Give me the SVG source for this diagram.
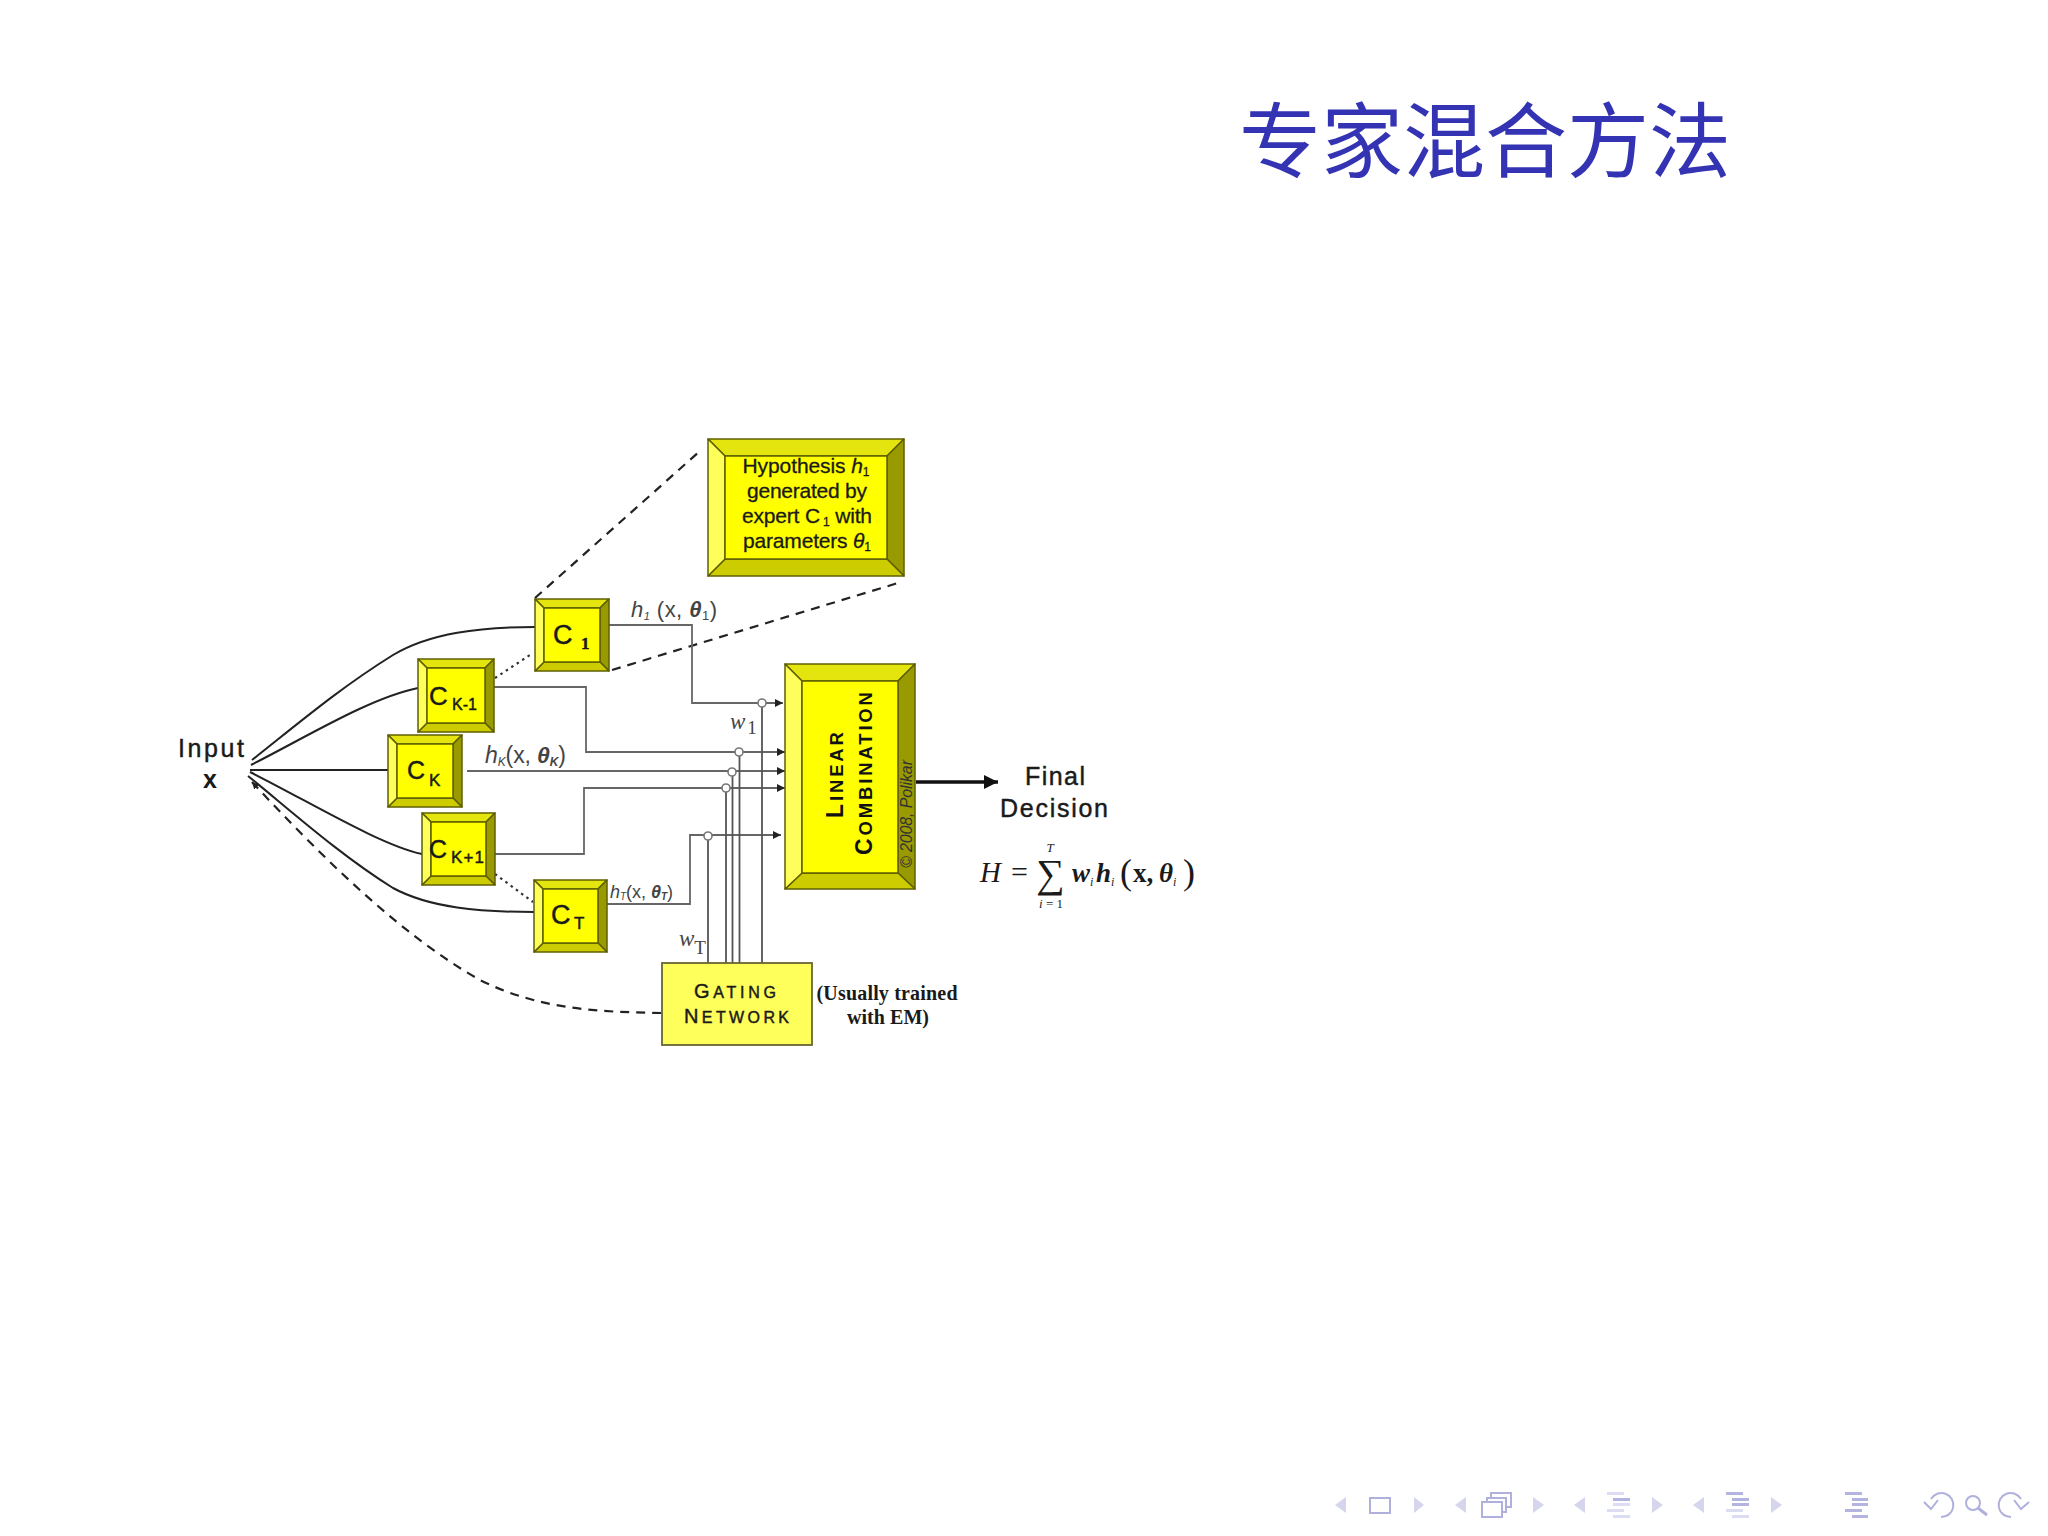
<svg xmlns="http://www.w3.org/2000/svg" width="2048" height="1536" viewBox="0 0 2048 1536">
<style>
text{font-family:"Liberation Sans",Arial,sans-serif;fill:#1a1a1a}
.serif{font-family:"Liberation Serif","Times New Roman",serif}
.lab{fill:#444}
.heavy{stroke:#1a1a1a;stroke-width:.45}
.o{stroke:#5f5f00;stroke-width:1.5;stroke-linejoin:round}
.bt{fill:#e4e40e}.br{fill:#999900}.bb{fill:#cccc00}.bl{fill:#ffff5c}.bf{fill:#ffff00}
.wire{fill:none;stroke:#222;stroke-width:2}
.dash{fill:none;stroke:#222;stroke-width:2.2;stroke-dasharray:9 7}
.dot{fill:none;stroke:#333;stroke-width:2.2;stroke-dasharray:2.5 4}
.g{fill:none;stroke:#666;stroke-width:1.8}
.v{fill:none;stroke:#555;stroke-width:1.8}
.c{fill:#fff;stroke:#777;stroke-width:1.6}
.tri{fill:#d5d5ee}
.ico{fill:none;stroke:#b0b0dd;stroke-width:2}
.d{fill:#b4b4e0}.l{fill:#dcdcf2}
</style>
<defs>
<marker id="arr" viewBox="0 0 8 8" refX="8" refY="4" markerWidth="8" markerHeight="8" markerUnits="userSpaceOnUse" orient="auto"><path d="M0 0L8 4L0 8z" fill="#222"/></marker>
<marker id="arrBig" viewBox="0 0 14 14" refX="14" refY="7" markerWidth="14" markerHeight="14" markerUnits="userSpaceOnUse" orient="auto"><path d="M0 0L14 7L0 14z" fill="#111"/></marker>
<marker id="arrStart" viewBox="0 0 7 7" refX="7" refY="3.500" markerWidth="7" markerHeight="7" markerUnits="userSpaceOnUse" orient="auto-start-reverse"><path d="M0 0L7 3.500L0 7z" fill="#222"/></marker>
</defs>
<rect width="2048" height="1536" fill="#fff"/>
<text id="title" x="1239" y="171" font-size="82" style="font-family:'Liberation Sans','Noto Sans CJK SC',sans-serif;fill:#3333b3">专家混合方法</text>

<g id="connectors">
<path class="wire" d="M252 760C300 722 340 688 393 655C430 633 480 627 535 627"/>
<path class="wire" d="M251 765C310 735 370 698 418 688"/>
<path class="wire" d="M250 770H388"/>
<path class="wire" d="M250 772C310 802 380 845 422 854"/>
<path class="wire" d="M248 776C290 810 340 855 393 888C430 908 480 912 534 912"/>
<path class="dash" marker-start="url(#arrStart)" d="M252 782C320 855 400 935 480 980C540 1010 600 1012 662 1013"/>
<path class="dash" d="M535 598L700 451"/>
<path class="dash" d="M612 670L898 583"/>
<path class="dot" d="M495 678L533 653"/>
<path class="dot" d="M495 874L533 902"/>
<path class="g" marker-end="url(#arr)" d="M609 625H692V703H783"/>
<path class="g" marker-end="url(#arr)" d="M494 687H586V752H785"/>
<path class="g" marker-end="url(#arr)" d="M467 771H785"/>
<path class="g" marker-end="url(#arr)" d="M495 854H584V788H785"/>
<path class="g" marker-end="url(#arr)" d="M607 904H690V835H781"/>
<path class="v" d="M762 703V963M739.500 752V963M732.500 772V963M726 788V963M708 836V963"/>
<circle class="c" cx="762" cy="703" r="4"/>
<circle class="c" cx="739" cy="752" r="4"/>
<circle class="c" cx="732" cy="772" r="4"/>
<circle class="c" cx="726" cy="788" r="4"/>
<circle class="c" cx="708" cy="836" r="4"/>
<path fill="none" stroke="#111" stroke-width="3.500" marker-end="url(#arrBig)" d="M916 782H998"/>
</g>

<g id="input"><text class="heavy" x="211" y="757" font-size="25" text-anchor="middle" textLength="66">Input</text><text x="210" y="788" font-size="25" font-weight="bold" text-anchor="middle">x</text></g>

<g id="c1" class="o">
<polygon class="bt" points="535,599 609,599 600,608 544,608"/><polygon class="br" points="609,599 609,671 600,662 600,608"/><polygon class="bb" points="535,671 609,671 600,662 544,662"/><polygon class="bl" points="535,599 535,671 544,662 544,608"/><rect class="bf" x="544" y="608" width="56" height="54"/>
<text class="heavy" x="553" y="644" font-size="27">C<tspan class="serif" x="581" y="649" font-size="17" font-weight="bold">1</tspan></text>
</g>
<g id="ck-1" class="o">
<polygon class="bt" points="418,659 494,659 485,668 427,668"/><polygon class="br" points="494,659 494,732 485,723 485,668"/><polygon class="bb" points="418,732 494,732 485,723 427,723"/><polygon class="bl" points="418,659 418,732 427,723 427,668"/><rect class="bf" x="427" y="668" width="58" height="55"/>
<text class="heavy" x="429" y="705" font-size="26">C<tspan x="452" y="710" font-size="16">K-1</tspan></text>
</g>
<g id="ck" class="o">
<polygon class="bt" points="388,735 462,735 453,744 397,744"/><polygon class="br" points="462,735 462,807 453,798 453,744"/><polygon class="bb" points="388,807 462,807 453,798 397,798"/><polygon class="bl" points="388,735 388,807 397,798 397,744"/><rect class="bf" x="397" y="744" width="56" height="54"/>
<text class="heavy" x="407" y="779" font-size="25">C<tspan x="429" y="786" font-size="17">K</tspan></text>
</g>
<g id="ck+1" class="o">
<polygon class="bt" points="422,813 495,813 486,822 431,822"/><polygon class="br" points="495,813 495,885 486,876 486,822"/><polygon class="bb" points="422,885 495,885 486,876 431,876"/><polygon class="bl" points="422,813 422,885 431,876 431,822"/><rect class="bf" x="431" y="822" width="55" height="54"/>
<text class="heavy" x="429" y="858" font-size="25">C<tspan x="451" y="863" font-size="17" textLength="33">K+1</tspan></text>
</g>
<g id="ct" class="o">
<polygon class="bt" points="534,880 607,880 598,889 543,889"/><polygon class="br" points="607,880 607,952 598,943 598,889"/><polygon class="bb" points="534,952 607,952 598,943 543,943"/><polygon class="bl" points="534,880 534,952 543,943 543,889"/><rect class="bf" x="543" y="889" width="55" height="54"/>
<text class="heavy" x="551" y="924" font-size="27">C<tspan x="574" y="929" font-size="17">T</tspan></text>
</g>

<g id="hypothesis" class="o">
<polygon class="bt" points="708,439 904,439 887,456 725,456"/><polygon class="br" points="904,439 904,576 887,559 887,456"/><polygon class="bb" points="708,576 904,576 887,559 725,559"/><polygon class="bl" points="708,439 708,576 725,559 725,456"/><rect class="bf" x="725" y="456" width="162" height="103"/>
<g font-size="21" text-anchor="middle" style="stroke:#1a1a1a;stroke-width:.3">
<text x="806" y="473" textLength="127">Hypothesis <tspan font-style="italic">h</tspan><tspan font-size="12" dy="3">1</tspan></text>
<text x="807" y="498" textLength="120">generated by</text>
<text x="807" y="523" textLength="130">expert C<tspan font-size="12" dy="3"> 1</tspan><tspan dy="-3"> with</tspan></text>
<text x="807" y="548" textLength="128">parameters <tspan font-style="italic">θ</tspan><tspan font-size="12" dy="3">1</tspan></text>
</g>
</g>

<g id="linear" class="o">
<polygon class="bt" points="785,664 915,664 898,681 802,681"/><polygon class="br" points="915,664 915,889 898,873 898,681"/><polygon class="bb" points="785,889 915,889 898,873 802,873"/><polygon class="bl" points="785,664 785,889 802,873 802,681"/><rect class="bf" x="802" y="681" width="96" height="192"/>
<g stroke="none" font-weight="bold">
<text transform="translate(843 818) rotate(-90)" font-size="23" textLength="86" style="fill:#111">L<tspan font-size="18.500">INEAR</tspan></text>
<text transform="translate(872 855) rotate(-90)" font-size="23" textLength="163" style="fill:#111">C<tspan font-size="18.500">OMBINATION</tspan></text>
</g>
<text stroke="none" transform="translate(912 868) rotate(-90)" font-size="16" font-style="italic" textLength="108" style="fill:#333">© 2008, Polikar</text>
</g>

<g id="gating">
<rect x="662" y="963" width="150" height="82" fill="#ffff5c" stroke="#666633" stroke-width="1.800"/>
<text class="heavy" x="694" y="998" font-size="20" textLength="82">G<tspan font-size="16">ATING</tspan></text>
<text class="heavy" x="684" y="1023" font-size="20" textLength="105">N<tspan font-size="16">ETWORK</tspan></text>
</g>

<g id="labels">
<text class="lab" x="631" y="617" font-size="22" textLength="86"><tspan font-style="italic">h</tspan><tspan font-size="11" font-style="italic" dy="3">1</tspan><tspan dy="-3"> (x, </tspan><tspan font-weight="bold" font-style="italic">θ</tspan><tspan font-size="13" dy="3">1</tspan><tspan dy="-3">)</tspan></text>
<text class="lab" x="485" y="763" font-size="23" textLength="81"><tspan font-style="italic">h</tspan><tspan font-size="12" font-style="italic" dy="3">K</tspan><tspan dy="-3">(x, </tspan><tspan font-weight="bold" font-style="italic">θ</tspan><tspan font-size="12" font-weight="bold" font-style="italic" dy="3">K</tspan><tspan dy="-3">)</tspan></text>
<text class="lab" x="610" y="898" font-size="18" textLength="63"><tspan font-style="italic">h</tspan><tspan font-size="10" font-style="italic" dy="2">T</tspan><tspan dy="-2">(x, </tspan><tspan font-weight="bold" font-style="italic">θ</tspan><tspan font-size="10" font-weight="bold" font-style="italic" dy="2">T</tspan><tspan dy="-2">)</tspan></text>
<text class="serif lab" x="730" y="729" font-size="23" font-style="italic">w<tspan font-style="normal" font-size="19" dx="2" dy="5">1</tspan></text>
<text class="serif lab" x="679" y="946" font-size="23" font-style="italic">w<tspan font-style="normal" font-size="19" dy="8">T</tspan></text>
<text class="serif" x="887" y="1000" font-size="20" font-weight="bold" text-anchor="middle" textLength="141">(Usually trained</text>
<text class="serif" x="888" y="1024" font-size="20" font-weight="bold" text-anchor="middle" textLength="82">with EM)</text>
<text class="heavy" x="1055" y="785" font-size="25" text-anchor="middle" textLength="60">Final</text>
<text class="heavy" x="1054" y="817" font-size="25" text-anchor="middle" textLength="108">Decision</text>
</g>

<g id="formula">
<text class="serif" x="980" y="882" font-size="29" font-style="italic">H</text>
<text class="serif" x="1011" y="882" font-size="30">=</text>
<text class="serif" x="1036" y="887" font-size="40">∑</text>
<text class="serif" x="1050" y="852" font-size="13" font-style="italic" text-anchor="middle">T</text>
<text class="serif" x="1051" y="908" font-size="13" text-anchor="middle"><tspan font-style="italic">i</tspan> = 1</text>
<text class="serif" x="1072" y="882" font-size="27" font-style="italic" font-weight="bold">w<tspan font-size="12" font-weight="normal" dy="4">i</tspan></text>
<text class="serif" x="1096" y="882" font-size="27" font-style="italic" font-weight="bold">h<tspan font-size="12" font-weight="normal" dy="4">i</tspan></text>
<text class="serif" x="1120" y="884" font-size="36">(</text>
<text class="serif" x="1133" y="882" font-size="27" font-weight="bold">x,</text>
<text class="serif" x="1159" y="882" font-size="27" font-style="italic" font-weight="bold">θ<tspan font-size="12" font-weight="normal" dy="4">i</tspan></text>
<text class="serif" x="1183" y="884" font-size="36">)</text>
</g>

<g id="nav">
<polygon class="tri" points="1346,1497 1335,1505 1346,1513"/>
<rect class="ico" x="1370" y="1498" width="20" height="15"/>
<polygon class="tri" points="1414,1497 1424,1505 1414,1513"/>
<polygon class="tri" points="1466,1497 1455,1505 1466,1513"/>
<path class="ico" d="M1491 1497V1493H1511V1507H1506M1487 1502V1498H1506V1512H1502M1482 1502H1502V1517H1482Z"/>
<polygon class="tri" points="1533,1497 1544,1505 1533,1513"/>
<polygon class="tri" points="1585,1497 1574,1505 1585,1513"/>
<rect class="l" x="1607" y="1492" width="17" height="3"/><rect class="d" x="1613" y="1498" width="17" height="3"/><rect class="l" x="1613" y="1503" width="17" height="3"/><rect class="l" x="1607" y="1509" width="17" height="3"/><rect class="l" x="1613" y="1515" width="17" height="3"/>
<polygon class="tri" points="1652,1497 1663,1505 1652,1513"/>
<polygon class="tri" points="1704,1497 1693,1505 1704,1513"/>
<rect class="d" x="1726" y="1492" width="17" height="3"/><rect class="d" x="1732" y="1498" width="17" height="3"/><rect class="d" x="1732" y="1503" width="17" height="3"/><rect class="l" x="1726" y="1509" width="17" height="3"/><rect class="l" x="1732" y="1515" width="17" height="3"/>
<polygon class="tri" points="1771,1497 1782,1505 1771,1513"/>
<rect class="d" x="1845" y="1492" width="17" height="3"/><rect class="d" x="1852" y="1498" width="16" height="3"/><rect class="d" x="1852" y="1503" width="16" height="3"/><rect class="d" x="1845" y="1509" width="17" height="3"/><rect class="d" x="1852" y="1515" width="16" height="3"/>
<path class="ico" d="M1931 1499A12 12 0 1 1 1941 1517M1924 1502L1931 1509L1938 1500"/>
<circle class="ico" cx="1973" cy="1503" r="7"/><path class="ico" style="stroke-width:3" d="M1978 1508L1987 1515"/>
<path class="ico" d="M2021 1499A12 12 0 1 0 2011 1517M2029 1502L2021 1509L2014 1500"/>
</g>
</svg>
